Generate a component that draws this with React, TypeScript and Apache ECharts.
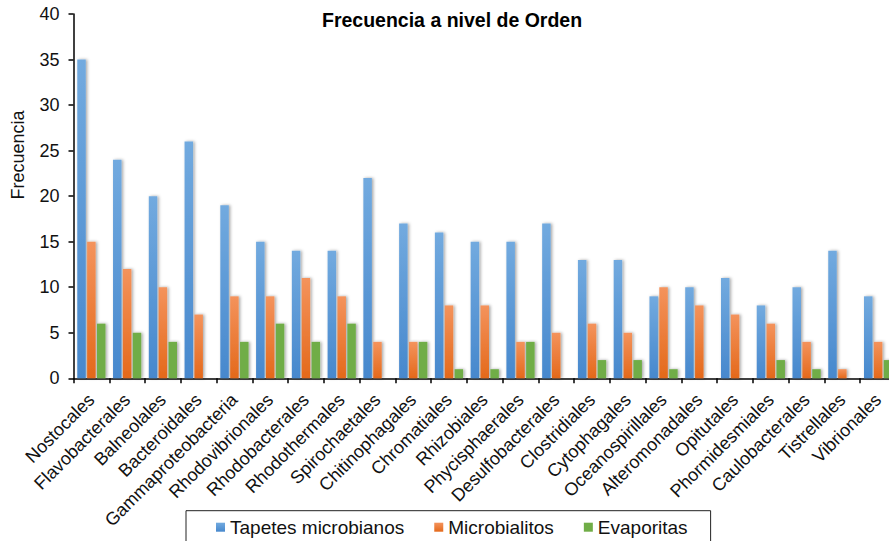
import React, { useEffect, useRef } from "react";
import * as echarts from "echarts";

const categories = [
  "Nostocales", "Flavobacterales", "Balneolales", "Bacteroidales", "Gammaproteobacteria",
  "Rhodovibrionales", "Rhodobacterales", "Rhodothermales", "Spirochaetales", "Chitinophagales",
  "Chromatiales", "Rhizobiales", "Phycisphaerales", "Desulfobacterales", "Clostridiales",
  "Cytophagales", "Oceanospirillales", "Alteromonadales", "Opitutales", "Phormidesmiales",
  "Caulobacterales", "Tistrellales", "Vibrionales",
];
const tapetes = [35, 24, 20, 26, 19, 15, 14, 14, 22, 17, 16, 15, 15, 17, 13, 13, 9, 10, 11, 8, 10, 14, 9];
const microbialitos = [15, 12, 10, 7, 9, 9, 11, 9, 4, 4, 8, 8, 4, 5, 6, 5, 10, 8, 7, 6, 4, 1, 4];
const evaporitas = [6, 5, 4, 0, 4, 6, 4, 6, 0, 4, 1, 1, 4, 0, 2, 2, 1, 0, 0, 2, 1, 0, 2];
const seriesNames = ["Tapetes microbianos", "Microbialitos", "Evaporitas"];

const FONT = "'Liberation Sans', Arial, sans-serif";

export default function App() {
  const ref = useRef<HTMLDivElement>(null);
  useEffect(() => {
    document.body.style.margin = "0";
    if (!ref.current) return;
    const chart = echarts.init(ref.current, undefined, { renderer: "svg" });
    const grad = (top: string, bottom: string) =>
      new echarts.graphic.LinearGradient(0, 0, 0, 1, [
        { offset: 0, color: top },
        { offset: 1, color: bottom },
      ]);
    const shadow = {
      shadowColor: "rgba(0,0,0,0.35)",
      shadowBlur: 3,
      shadowOffsetX: 1.5,
      shadowOffsetY: 0,
    };
    chart.setOption({
      animation: false,
      textStyle: { fontFamily: FONT },
      title: {
        text: "Frecuencia a nivel de Orden",
        left: 322,
        top: 9.5,
        padding: 0,
        textStyle: { fontFamily: FONT, fontSize: 19.5, fontWeight: "bold", color: "#000" },
      },
      graphic: [
        {
          type: "text",
          x: 18.3,
          y: 155,
          rotation: Math.PI / 2,
          style: {
            text: "Frecuencia",
            fontFamily: FONT,
            fontSize: 18,
            fill: "#111",
            align: "center",
            verticalAlign: "middle",
          },
        },
      ],
      legend: {
        data: seriesNames,
        left: 186,
        top: 510.7,
        orient: "horizontal",
        icon: "rect",
        itemWidth: 9,
        itemHeight: 9,
        itemGap: 30,
        padding: [7, 23, 7, 30],
        borderColor: "#222",
        borderWidth: 1,
        textStyle: { fontFamily: FONT, fontSize: 19, color: "#111" },
      },
      grid: {
        left: 73.5,
        top: 14,
        right: -7,
        bottom: 162.7,
        outerBoundsMode: "none",
        containLabel: false,
      },
      xAxis: {
        type: "category",
        data: categories,
        axisLine: { lineStyle: { color: "#000", width: 1.5 } },
        axisTick: { show: true, alignWithLabel: false, length: 5, lineStyle: { color: "#000", width: 1.5 } },
        axisLabel: {
          interval: 0,
          rotate: 45,
          margin: 18.5,
          padding: [7, 0, 0, 0],
          fontFamily: FONT,
          fontSize: 18,
          color: "#111",
        },
      },
      yAxis: {
        type: "value",
        min: 0,
        max: 40,
        interval: 5,
        splitLine: { show: false },
        axisLine: { show: true, lineStyle: { color: "#000", width: 1.5 } },
        axisTick: { show: true, length: 5, lineStyle: { color: "#000", width: 1.5 } },
        axisLabel: { margin: 14, fontFamily: FONT, fontSize: 18, color: "#111" },
      },
      series: [
        {
          name: seriesNames[0],
          type: "bar",
          data: tapetes,
          barWidth: 8.5,
          barGap: "16%",
          itemStyle: { color: grad("#72aadf", "#4788cd"), ...shadow },
        },
        {
          name: seriesNames[1],
          type: "bar",
          data: microbialitos,
          barWidth: 8.5,
          barGap: "16%",
          itemStyle: { color: grad("#f4935c", "#e4691b"), ...shadow },
        },
        {
          name: seriesNames[2],
          type: "bar",
          data: evaporitas,
          barWidth: 8.5,
          barGap: "16%",
          itemStyle: { color: "#70ad47", ...shadow },
        },
      ],
    });
    return () => chart.dispose();
  }, []);
  return <div ref={ref} style={{ width: 889, height: 541 }} />;
}
